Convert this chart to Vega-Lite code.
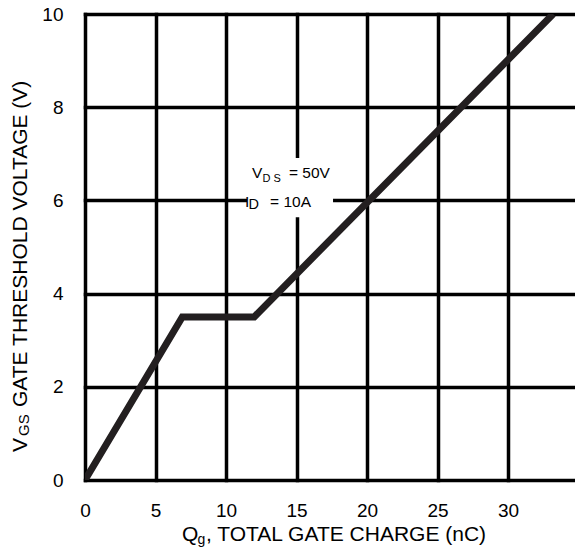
{
  "$schema": "https://vega.github.io/schema/vega-lite/v6.json",
  "width": 490,
  "height": 466,
  "autosize": "none",
  "padding": {"left": 85, "top": 14, "right": 0, "bottom": 72},
  "background": "white",
  "config": {"view": {"stroke": null}, "text": {"font": "Liberation Sans", "color": "#000"}},
  "layer": [
    {
      "data": {"values": [
        {"Qg": 0, "VGS": 0},
        {"Qg": 6.9, "VGS": 3.5},
        {"Qg": 12, "VGS": 3.5},
        {"Qg": 33.2, "VGS": 10}
      ]},
      "mark": {"type": "line", "color": "#231f20", "strokeWidth": 7, "strokeCap": "butt", "strokeJoin": "miter", "clip": true},
      "encoding": {
        "x": {"field": "Qg", "type": "quantitative",
          "scale": {"domain": [0, 34.75], "nice": false, "zero": false},
          "axis": {"title": null, "values": [0, 5, 10, 15, 20, 25, 30], "grid": true, "gridColor": "#000", "gridOpacity": 1, "gridWidth": 3.5, "gridCap": "square", "domain": false, "ticks": false, "labelPadding": 21, "labelFontSize": 19, "labelColor": "#000", "labelFont": "Liberation Sans", "labelFlush": false, "labelOverlap": false}},
        "y": {"field": "VGS", "type": "quantitative",
          "scale": {"domain": [0, 10], "nice": false, "zero": false},
          "axis": {"title": null, "values": [0, 2, 4, 6, 8, 10], "grid": true, "gridColor": "#000", "gridOpacity": 1, "gridWidth": 3.5, "gridCap": "square", "domain": false, "ticks": false, "labelPadding": 22, "labelFontSize": 19, "labelColor": "#000", "labelFont": "Liberation Sans", "labelFlush": false, "labelOverlap": false}}
      }
    },
    {
      "data": {"values": [{}]},
      "mark": {"type": "rect", "fill": "white"},
      "encoding": {
        "x": {"datum": 11.49, "scale": {"domain": [0, 34.75], "nice": false}},
        "x2": {"datum": 17.59},
        "y": {"datum": 6.91, "scale": {"domain": [0, 10], "nice": false}},
        "y2": {"datum": 5.64}
      }
    },
    {
      "data": {"values": [{}]},
      "mark": {"type": "text", "text": "V", "fontSize": 15.5, "align": "left", "baseline": "alphabetic"},
      "encoding": {"x": {"datum": 11.84, "scale": {"domain": [0, 34.75], "nice": false}}, "y": {"datum": 6.48, "scale": {"domain": [0, 10], "nice": false}}}
    },
    {
      "data": {"values": [{}]},
      "mark": {"type": "text", "text": "D S", "fontSize": 11, "align": "left", "baseline": "alphabetic", "dx": 10.5, "dy": 4},
      "encoding": {"x": {"datum": 11.84, "scale": {"domain": [0, 34.75], "nice": false}}, "y": {"datum": 6.48, "scale": {"domain": [0, 10], "nice": false}}}
    },
    {
      "data": {"values": [{}]},
      "mark": {"type": "text", "text": "= 50V", "fontSize": 15.5, "align": "left", "baseline": "alphabetic", "dx": 37},
      "encoding": {"x": {"datum": 11.84, "scale": {"domain": [0, 34.75], "nice": false}}, "y": {"datum": 6.48, "scale": {"domain": [0, 10], "nice": false}}}
    },
    {
      "data": {"values": [{}]},
      "mark": {"type": "text", "text": "I", "fontSize": 15.5, "align": "left", "baseline": "alphabetic"},
      "encoding": {"x": {"datum": 11.35, "scale": {"domain": [0, 34.75], "nice": false}}, "y": {"datum": 5.86, "scale": {"domain": [0, 10], "nice": false}}}
    },
    {
      "data": {"values": [{}]},
      "mark": {"type": "text", "text": "D", "fontSize": 14.5, "align": "left", "baseline": "alphabetic", "dx": 3.5, "dy": 2},
      "encoding": {"x": {"datum": 11.35, "scale": {"domain": [0, 34.75], "nice": false}}, "y": {"datum": 5.86, "scale": {"domain": [0, 10], "nice": false}}}
    },
    {
      "data": {"values": [{}]},
      "mark": {"type": "text", "text": "= 10A", "fontSize": 15.5, "align": "left", "baseline": "alphabetic", "dx": 25},
      "encoding": {"x": {"datum": 11.35, "scale": {"domain": [0, 34.75], "nice": false}}, "y": {"datum": 5.86, "scale": {"domain": [0, 10], "nice": false}}}
    },
    {
      "data": {"values": [{}]},
      "mark": {"type": "text", "text": "Q", "fontSize": 21, "align": "left", "baseline": "alphabetic"},
      "encoding": {"x": {"datum": 6.88, "scale": {"domain": [0, 34.75], "nice": false}}, "y": {"datum": -1.309, "scale": {"domain": [0, 10], "nice": false}}}
    },
    {
      "data": {"values": [{}]},
      "mark": {"type": "text", "text": "g", "fontSize": 14, "align": "left", "baseline": "alphabetic", "dx": 15.5, "dy": 3},
      "encoding": {"x": {"datum": 6.88, "scale": {"domain": [0, 34.75], "nice": false}}, "y": {"datum": -1.309, "scale": {"domain": [0, 10], "nice": false}}}
    },
    {
      "data": {"values": [{}]},
      "mark": {"type": "text", "text": ", TOTAL GATE CHARGE (nC)", "fontSize": 21, "align": "left", "baseline": "alphabetic", "dx": 24},
      "encoding": {"x": {"datum": 6.88, "scale": {"domain": [0, 34.75], "nice": false}}, "y": {"datum": -1.309, "scale": {"domain": [0, 10], "nice": false}}}
    },
    {
      "data": {"values": [{}]},
      "mark": {"type": "text", "text": "V", "fontSize": 21, "align": "left", "baseline": "alphabetic", "angle": 270},
      "encoding": {"x": {"datum": -4.11, "scale": {"domain": [0, 34.75], "nice": false}}, "y": {"datum": 0.601, "scale": {"domain": [0, 10], "nice": false}}}
    },
    {
      "data": {"values": [{}]},
      "mark": {"type": "text", "text": "GS", "fontSize": 15, "align": "left", "baseline": "alphabetic", "angle": 270, "dx": 16, "dy": 2},
      "encoding": {"x": {"datum": -4.11, "scale": {"domain": [0, 34.75], "nice": false}}, "y": {"datum": 0.601, "scale": {"domain": [0, 10], "nice": false}}}
    },
    {
      "data": {"values": [{}]},
      "mark": {"type": "text", "text": "GATE THRESHOLD VOLTAGE (V)", "fontSize": 21, "align": "left", "baseline": "alphabetic", "angle": 270, "dx": 45},
      "encoding": {"x": {"datum": -4.11, "scale": {"domain": [0, 34.75], "nice": false}}, "y": {"datum": 0.601, "scale": {"domain": [0, 10], "nice": false}}}
    }
  ]
}
